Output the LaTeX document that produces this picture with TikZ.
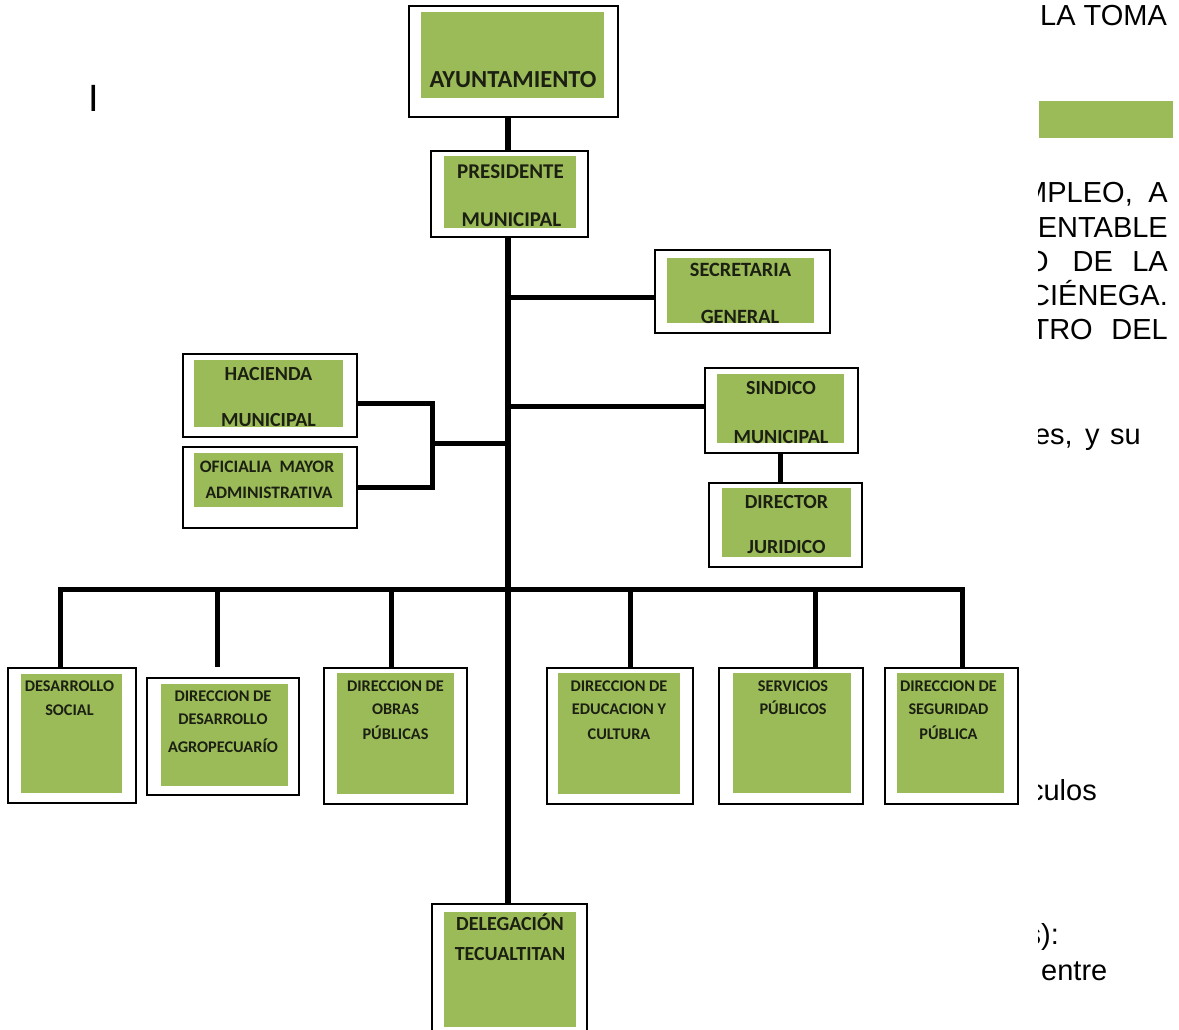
\documentclass[tikz,border=0pt]{standalone}
\usepackage{fontspec}
\setmainfont{Liberation Sans}
\newfontfamily\carl{Carlito}
\usetikzlibrary{fit}
\definecolor{ogreen}{HTML}{9BBB59}
\definecolor{otext}{RGB}{28,32,18}
\newcommand\orgbox[9]{%
  \node[obox, fit={(#2,#3)(#4,#5)}] (#1) {};
  \fill[ogreen] (#6,#7) rectangle (#8,#9);}
\tikzset{
  x=1pt, y=-1pt,
  obox/.style={draw=black, line width=2pt, fill=white, inner sep=0pt},
  lbl/.style={font=\carl\bfseries\fontsize{#1}{#1}\selectfont, text=otext,
     inner sep=0pt, anchor=base, yshift={-0.316*#1pt}},
  bt/.style={font=\fontsize{29}{34}\selectfont, inner sep=0pt},
  conn/.style={line width=5pt},
  trunkline/.style={line width=6pt}
}
\begin{document}
\begin{tikzpicture}
\useasboundingbox (0,0) rectangle (1179,1030);
\clip (0,0) rectangle (1179,1030);
\fill[white] (0,0) rectangle (1179,1030);

% background text (partly hidden)
\begin{scope}
\clip (1038,0) rectangle (1179,1030);
\node[bt, anchor=base west] (r1) at (1040,26) {LA TOMA};
\fill[ogreen] (1039,101) rectangle (1173,138);
\node[bt, anchor=base east] (r2a) at (1133,203) {EMPLEO,};
\node[bt, anchor=base east] (r2b) at (1168,203) {A};
\node[bt, anchor=base east] (r3) at (1168,237) {SUSTENTABLE};
\node[bt, anchor=base east] (r4a) at (1049,271) {DESARROLLO};
\node[bt, anchor=base west] (r4b) at (1072.5,271) {DE};
\node[bt, anchor=base east] (r4c) at (1168,271) {LA};
\node[bt, anchor=base east] (r5) at (1168,305) {CIÉNEGA.};
\node[bt, anchor=base east] (r6a) at (1093,339) {CENTRO};
\node[bt, anchor=base east] (r6b) at (1168,339) {DEL};
\node[bt, anchor=base east] (r7a) at (1073,444) {funciones,};
\node[bt, anchor=base west] (r7b) at (1085,444) {y};
\node[bt, anchor=base east] (r7c) at (1141,444) {su};
\node[bt, anchor=base east] (r8) at (1097,800) {vehículos};
\node[bt, anchor=base east] (r9) at (1059,944) {s):};
\node[bt, anchor=base west] (r10) at (1041,980) {entre};
\end{scope}
\node[anchor=base, inner sep=0pt, font=\fontsize{38}{38}\selectfont] (lI) at (94,112) {I};

% trunk reference
\coordinate (tr) at (507.5,0);
\coordinate (bus) at (0,589);
\coordinate (bj) at (432,443);

% boxes
\orgbox{ayu}{409}{6}{618}{117}{421}{12}{604}{98}
\orgbox{pres}{431}{151}{588}{237}{444}{156}{576}{228}
\orgbox{sec}{655}{250}{830}{333}{667}{258}{814}{323}
\orgbox{sind}{705}{368}{858}{453}{717}{374}{844}{443}
\orgbox{dir}{709}{483}{862}{567}{722}{488}{851}{557}
\orgbox{hac}{183}{354}{357}{437}{194}{360}{343}{427}
\orgbox{ofi}{183}{447}{357}{528}{194}{453}{343}{507}
\orgbox{ds}{8}{668}{136}{803}{21}{674}{122}{793}
\orgbox{ag}{147}{678}{299}{795}{161}{684}{288}{786}
\orgbox{ob}{324}{668}{467}{804}{337}{673}{454}{794}
\orgbox{ed}{547}{668}{693}{804}{558}{673}{680}{794}
\orgbox{sv}{719}{668}{863}{804}{733}{673}{851}{793}
\orgbox{sg}{885}{668}{1018}{804}{897}{673}{1004}{793}
\orgbox{del}{432}{904}{587}{1036}{444}{912}{576}{1027}

% connectors
\draw[trunkline] (ayu.south -| tr) -- (pres.north -| tr);
\draw[trunkline] (pres.south -| tr) -- (del.north -| tr);
\draw[conn] ([yshift=-5.5pt]sec.west) -- ([yshift=-5.5pt]sec.west -| tr);
\draw[conn] ([yshift=4.5pt]sind.west) -- ([yshift=4.5pt]sind.west -| tr);
\draw[conn] ([xshift=-1.5pt]sind.south) -- ([xshift=-1.5pt]sind.south |- dir.north);
\draw[conn] ([yshift=-7.5pt]hac.east) -| (bj) |- (ofi.east);
\draw[conn] (bj) -- (bj -| tr);
\draw[conn] ([xshift=-12pt]ds.north) -- ([xshift=-12pt]ds.north |- bus)
   -- ([xshift=10.5pt]sg.north |- bus) -- ([xshift=10.5pt]sg.north);
\draw[conn] ([xshift=-6pt]ag.north |- bus) -- ([xshift=-6pt,yshift=10pt]ag.north);
\draw[conn] ([xshift=-4.5pt]ob.north |- bus) -- ([xshift=-4.5pt]ob.north);
\draw[conn] ([xshift=10pt]ed.north |- bus) -- ([xshift=10pt]ed.north);
\draw[conn] ([xshift=24pt]sv.north |- bus) -- ([xshift=24pt]sv.north);

% labels
\node[lbl=24.5] (ayu-t) at (513,80) {AYUNTAMIENTO};
\node[lbl=21] (pres-t1) at (510.5,172) {PRESIDENTE};
\node[lbl=21] (pres-t2) at (511.5,219.5) {MUNICIPAL};
\node[lbl=20.3] (sec-t1) at (740.5,270.5) {SECRETARIA};
\node[lbl=20.3] (sec-t2) at (740,316.7) {GENERAL};
\node[lbl=20] (sind-t1) at (781,388.3) {SINDICO};
\node[lbl=20] (sind-t2) at (781,436.7) {MUNICIPAL};
\node[lbl=20] (dir-t1) at (786.5,502.5) {DIRECTOR};
\node[lbl=20] (dir-t2) at (786.5,547.5) {JURIDICO};
\node[lbl=20] (hac-t1) at (268.5,373.8) {HACIENDA};
\node[lbl=20] (hac-t2) at (268.5,420.5) {MUNICIPAL};
\node[lbl=17.5] (ofi-t1) at (267,466.7) {OFICIALIA\ \ MAYOR};
\node[lbl=17.5] (ofi-t2) at (269,493.3) {ADMINISTRATIVA};
\node[lbl=16.3] (ds-t1) at (69.5,686) {DESARROLLO};
\node[lbl=16.3] (ds-t2) at (69.5,710) {SOCIAL};
\node[lbl=16.3] (ag-t1) at (223,696) {DIRECCION DE};
\node[lbl=16.3] (ag-t2) at (223,719.5) {DESARROLLO};
\node[lbl=16.3] (ag-t3) at (223,747) {AGROPECUARÍO};
\node[lbl=16.3] (ob-t1) at (395.5,686) {DIRECCION DE};
\node[lbl=16.3] (ob-t2) at (395.5,709) {OBRAS};
\node[lbl=16.3] (ob-t3) at (395.5,734) {PÚBLICAS};
\node[lbl=16.3] (ed-t1) at (619,686) {DIRECCION DE};
\node[lbl=16.3] (ed-t2) at (619,709) {EDUCACION Y};
\node[lbl=16.3] (ed-t3) at (619,734) {CULTURA};
\node[lbl=16.3] (sv-t1) at (793,686) {SERVICIOS};
\node[lbl=16.3] (sv-t2) at (793,709) {PÚBLICOS};
\node[lbl=16.3] (sg-t1) at (948.5,686) {DIRECCION DE};
\node[lbl=16.3] (sg-t2) at (948.5,709) {SEGURIDAD};
\node[lbl=16.3] (sg-t3) at (948.5,734) {PÚBLICA};
\node[lbl=20] (del-t1) at (510,924.5) {DELEGACIÓN};
\node[lbl=20] (del-t2) at (510,954.5) {TECUALTITAN};
\end{tikzpicture}
\end{document}
